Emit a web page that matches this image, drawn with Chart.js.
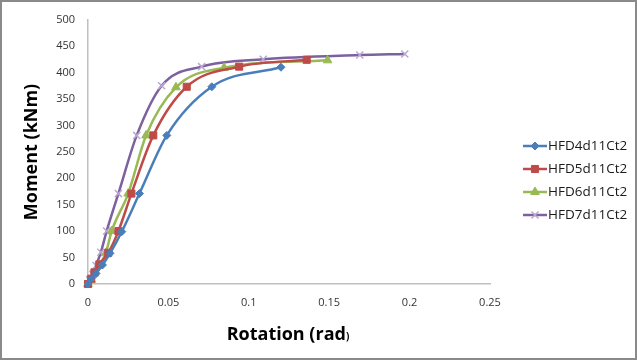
<!DOCTYPE html>
<html><head><meta charset="utf-8">
<script src="https://cdn.jsdelivr.net/npm/chart.js@4/dist/chart.umd.min.js"></script>
<style>html,body{margin:0;padding:0;background:#fff}#wrap{width:637px;height:360px;position:relative}</style>
</head><body><div id="wrap"><canvas id="c" width="637" height="360"></canvas></div>
<script>
const seriesNames = ["HFD4d11Ct2","HFD5d11Ct2","HFD6d11Ct2","HFD7d11Ct2"];
const rotHFD4 = [0,0.002,0.005,0.009,0.0137,0.021,0.032,0.049,0.077,0.12];
const momHFD4 = [0,10,20,36,58,99,171,281,373,410];
const rotHFD5 = [0,0.002,0.004,0.007,0.0126,0.0189,0.027,0.0406,0.0614,0.094,0.136];
const momHFD5 = [0,10,22,37,59,100,171,281,373,411,424];
const rotHFD6 = [0,0.002,0.004,0.007,0.011,0.0147,0.025,0.0361,0.0547,0.0846,0.149];
const momHFD6 = [0,8,20,36,58,100,171,281,372,409,423];
const rotHFD7 = [0,0.001,0.003,0.005,0.008,0.0116,0.0189,0.0303,0.0458,0.0707,0.109,0.169,0.197];
const momHFD7 = [0,8,18,35,60,100,171,281,375,411,425,433,435];
const xTicks = [0,0.05,0.1,0.15,0.2,0.25];
const yTicks = [0,50,100,150,200,250,300,350,400,450,500];

function pts(xs, ys){ return xs.map((x,i)=>({x:x,y:ys[i]})); }

const styles = [
  {line:'#4a7ebb', fill:'#4a7ebb', pt:'rectRot', r:4},
  {line:'#be4b48', fill:'#be4b48', pt:'rect', r:5},
  {line:'#98b954', fill:'#98b954', pt:'triangle', r:5},
  {line:'#7d60a0', fill:'#b9a8d2', pt:'crossRot', r:5}
];
const allData = [pts(rotHFD4,momHFD4), pts(rotHFD5,momHFD5), pts(rotHFD6,momHFD6), pts(rotHFD7,momHFD7)];

const datasets = allData.map((d,i)=>({
  label: seriesNames[i],
  data: d,
  borderColor: styles[i].line,
  backgroundColor: styles[i].fill,
  pointBorderColor: styles[i].fill,
  pointBackgroundColor: styles[i].fill,
  pointStyle: styles[i].pt,
  pointRadius: styles[i].r,
  pointBorderWidth: i===3 ? 1.5 : 1,
  borderWidth: 2.5,
  showLine: true,
  cubicInterpolationMode: 'monotone',
  clip: false
}));

const decor = {
  id:'decor',
  afterDraw(chart){
    const ctx = chart.ctx;
    ctx.save();
    ctx.strokeStyle = '#8a8a8a';
    ctx.lineWidth = 2;
    ctx.strokeRect(1,1,635,358);
    ctx.fillStyle = '#000';
    ctx.font = 'bold 18px "Open Sans", "DejaVu Sans", sans-serif';
    ctx.textAlign = 'center';
    ctx.textBaseline = 'middle';
    ctx.translate(32,152);
    ctx.rotate(-Math.PI/2);
    ctx.fillText('Moment (kNm)',0,0);
    ctx.restore();
    ctx.save();
    ctx.fillStyle = '#000';
    ctx.font = 'bold 18px "Open Sans", "DejaVu Sans", sans-serif';
    ctx.textBaseline = 'alphabetic';
    const main = 'Rotation (rad';
    const w = ctx.measureText(main).width;
    ctx.font = 'bold 10px "Open Sans", "DejaVu Sans", sans-serif';
    const w2 = ctx.measureText(')').width;
    const x0 = 288 - (w + w2)/2;
    ctx.font = 'bold 18px "Open Sans", "DejaVu Sans", sans-serif';
    ctx.textAlign = 'left';
    ctx.fillText(main, x0, 340);
    ctx.font = 'bold 10px "Open Sans", "DejaVu Sans", sans-serif';
    ctx.fillText(')', x0 + w, 340);
    const ly = [146,169,192,215];
    ctx.font = '13.5px "Open Sans", "DejaVu Sans", sans-serif';
    ctx.textBaseline = 'middle';
    chart.data.datasets.forEach((ds,i)=>{
      const y = ly[i];
      ctx.strokeStyle = ds.borderColor;
      ctx.lineWidth = 2.5;
      ctx.beginPath(); ctx.moveTo(523,y); ctx.lineTo(547,y); ctx.stroke();
      ctx.fillStyle = ds.pointBackgroundColor;
      ctx.strokeStyle = ds.pointBorderColor;
      ctx.lineWidth = ds.pointBorderWidth;
      Chart.helpers.drawPoint(ctx, {pointStyle: ds.pointStyle, radius: ds.pointRadius, rotation:0, borderWidth: ds.pointBorderWidth}, 535, y);
      ctx.fillStyle = '#1a1a1a';
      ctx.fillText(ds.label, 548, y);
    });
    ctx.restore();
  }
};

new Chart(document.getElementById('c'), {
  type: 'scatter',
  data: { datasets },
  options: {
    responsive: false,
    animation: false,
    layout: { padding: { left: 0, right: 147, top: 14, bottom: 0 } },
    plugins: { legend: { display: false }, tooltip: { enabled: false } },
    scales: {
      x: {
        type: 'linear', min: 0, max: 0.25,
        afterBuildTicks(s){ s.ticks = xTicks.map(v=>({value:v})); },
        afterFit(s){ s.height = 76; },
        grid: { display: false, drawTicks: false },
        border: { display: true, color: '#c0c0c0', width: 1.5 },
        ticks: { padding: 12, color: '#333', font: { family: '"Open Sans", sans-serif', size: 11 }, callback: v => String(v) }
      },
      y: {
        type: 'linear', min: 0, max: 500,
        afterBuildTicks(s){ s.ticks = yTicks.map(v=>({value:v})); },
        afterFit(s){ s.width = 88; },
        grid: { display: false, drawTicks: false },
        border: { display: true, color: '#c0c0c0', width: 1.5 },
        ticks: { padding: 13, color: '#333', font: { family: '"Open Sans", sans-serif', size: 11 } }
      }
    }
  },
  plugins: [decor]
});
</script>
</body></html>
